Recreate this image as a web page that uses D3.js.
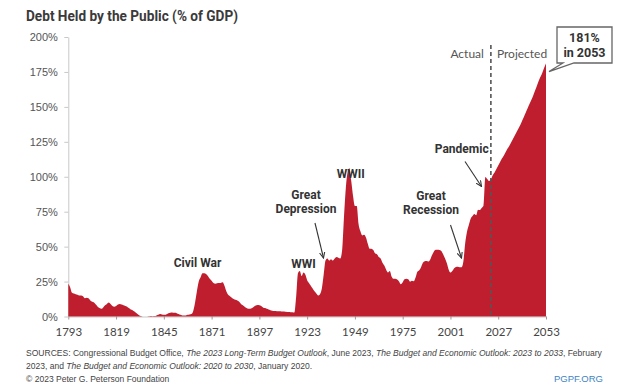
<!DOCTYPE html>
<html><head><meta charset="utf-8">
<script src="https://cdn.jsdelivr.net/npm/d3@7"></script>
<style>
html,body{margin:0;padding:0;background:#fff;}
svg{display:block;}
</style></head>
<body>
<svg id="chart" width="641" height="389"></svg>
<script>
const years = [1793,1794,1795,1796,1797,1798,1799,1800,1801,1802,1803,1804,1805,1806,1807,1808,1809,1810,1811,1812,1813,1814,1815,1816,1817,1818,1819,1820,1821,1822,1823,1824,1825,1826,1827,1828,1829,1830,1831,1832,1833,1834,1835,1836,1837,1838,1839,1840,1841,1842,1843,1844,1845,1846,1847,1848,1849,1850,1851,1852,1853,1854,1855,1856,1857,1858,1859,1860,1861,1862,1863,1864,1865,1866,1867,1868,1869,1870,1871,1872,1873,1874,1875,1876,1877,1878,1879,1880,1881,1882,1883,1884,1885,1886,1887,1888,1889,1890,1891,1892,1893,1894,1895,1896,1897,1898,1899,1900,1901,1902,1903,1904,1905,1906,1907,1908,1909,1910,1911,1912,1913,1914,1915,1916,1917,1918,1919,1920,1921,1922,1923,1924,1925,1926,1927,1928,1929,1930,1931,1932,1933,1934,1935,1936,1937,1938,1939,1940,1941,1942,1943,1944,1945,1946,1947,1948,1949,1950,1951,1952,1953,1954,1955,1956,1957,1958,1959,1960,1961,1962,1963,1964,1965,1966,1967,1968,1969,1970,1971,1972,1973,1974,1975,1976,1977,1978,1979,1980,1981,1982,1983,1984,1985,1986,1987,1988,1989,1990,1991,1992,1993,1994,1995,1996,1997,1998,1999,2000,2001,2002,2003,2004,2005,2006,2007,2008,2009,2010,2011,2012,2013,2014,2015,2016,2017,2018,2019,2020,2021,2022,2023];
const actualDebt = [23.5,21,17,16.5,16,15.5,15,15,14.5,13,13.5,13,11.5,10.5,10,8.5,7,6,5.5,6.5,8,9,10,9,7.5,7,7.5,8.5,9,8.5,8,7.5,7,6,5,4.5,3.5,2.5,1.5,0.5,0.2,0,0,0,0.1,0.3,0.2,0.3,0.8,1.2,1.8,1.5,1.2,1.3,2,2.5,2.8,2.7,2.6,2.4,1.8,1.2,0.8,0.7,0.8,1.2,1.5,1.8,4,10,18,25,28,31,31,30.5,29,27,25.5,24,23.5,23.8,24,24,24.5,22,18,15.5,14.5,13.5,12.5,12,11.5,10.5,9,8,7,6,5.5,5.5,6,7,7.8,8.2,8,7.5,6.5,6,5.5,5,4.5,4.2,4,4,3.8,3.8,3.6,3.5,3.4,3.3,3.2,3.1,3,2.8,14,31,32.5,29,31.5,30,26,24,22,20,18,16.5,15,16,20,30,40,41.5,40,41,40,41.5,42.5,42,41.5,47,70,91,103,106,97,86,79,79,66,61,58,58.5,56.5,52,48.5,48.5,47.5,45,44.5,42.5,41.5,38.5,36.5,33.5,31.5,32.5,28.5,27,27.1,26.4,25.1,23.1,24.5,26.7,27.1,26.6,24.9,25.5,25.2,27.9,32.1,33.1,35.3,38.4,39.5,39.8,39.3,40.8,44,46.6,47.8,47.7,47.5,46.8,44.5,41.6,38.2,33.6,31.4,32.5,34.5,35.5,35.6,35.3,35.2,39.2,52.2,60.6,65.5,70,71.9,73.4,72.5,76.4,76.2,77.6,79.4,99.8,98.4,97,98];
const projYears = [2023,2024,2025,2026,2027,2028,2029,2030,2031,2032,2033,2034,2035,2036,2037,2038,2039,2040,2041,2042,2043,2044,2045,2046,2047,2048,2049,2050,2051,2052,2053];
const projDebt = [98,101,103,105.5,108,110.5,113,115,117.5,120,122,124.5,127,129.5,132,134.5,137,140,143,146,149,152,155,158,161.5,165,168.5,171.5,174.5,178,181];
const xTicks = [1793,1819,1845,1871,1897,1923,1949,1975,2001,2027,2053];
const yTicks = [0,25,50,75,100,125,150,175,200];
const splitYear = 2023;
const events = [
  {lines:["Civil War"], year:1866},
  {lines:["WWI"], year:1918},
  {lines:["Great","Depression"], year:1933},
  {lines:["WWII"], year:1946},
  {lines:["Great","Recession"], year:2008},
  {lines:["Pandemic"], year:2020}
];
const sourceLines = [
  [["SOURCES: Congressional Budget Office, ",false],["The 2023 Long-Term Budget Outlook",true],[", June 2023, ",false],["The Budget and Economic Outlook: 2023 to 2033",true],[", February",false]],
  [["2023, and ",false],["The Budget and Economic Outlook: 2020 to 2030",true],[", January 2020.",false]]
];

const svg = d3.select("#chart");
const x = d3.scaleLinear().domain([1793,2053]).range([68.3,546]);
const y = d3.scaleLinear().domain([0,200]).range([316.5,37]);

const tickFont = "Lato, 'Noto Sans', sans-serif";
const boldFont = "Roboto, 'Liberation Sans', sans-serif";
const srcFont = "'Liberation Sans Narrow','Liberation Sans',sans-serif";

// title
svg.append("text").attr("x",26).attr("y",21)
  .attr("font-family","Roboto, 'Liberation Sans', sans-serif").attr("font-weight","bold")
  .attr("font-size",14.5).attr("fill","#3a3a3a")
  .attr("textLength",212).attr("lengthAdjust","spacingAndGlyphs")
  .text("Debt Held by the Public (% of GDP)");

const series = years.map((yr,i)=>({year:yr,v:actualDebt[i]}))
  .concat(projYears.slice(1).map((yr,i)=>({year:yr,v:projDebt[i+1]})));

// x axis
const xAxis = svg.append("g").attr("transform",`translate(0,${y(0)})`)
  .call(d3.axisBottom(x).tickValues(xTicks).tickFormat(d3.format("d")).tickSize(3).tickPadding(8).tickSizeOuter(0));
xAxis.select(".domain").attr("stroke","#c8c8c8");
xAxis.selectAll(".tick line").attr("stroke","#999");
xAxis.selectAll("text").attr("font-family",tickFont).attr("font-size",11.5).attr("fill","#444");

// y axis
const yAxis = svg.append("g").attr("transform",`translate(${x(1793)},0)`)
  .call(d3.axisLeft(y).tickValues(yTicks).tickFormat(d=>d+"%").tickSize(4).tickPadding(6.5).tickSizeOuter(0));
yAxis.select(".domain").attr("stroke","#c8c8c8");
yAxis.selectAll(".tick line").attr("stroke","#c8c8c8");
yAxis.selectAll("text").attr("font-family","'Liberation Sans', Arial, sans-serif").attr("font-size",11).attr("fill","#555");

// area
const area = d3.area().x(d=>x(d.year)).y0(y(0)).y1(d=>y(d.v)).curve(d3.curveMonotoneX);
svg.append("path").datum(series).attr("d",area).attr("fill","#BE1E2D");

// split line
svg.append("line").attr("x1",x(splitYear)).attr("x2",x(splitYear)).attr("y1",45).attr("y2",y(0))
  .attr("stroke","#555").attr("stroke-width",1.6).attr("stroke-dasharray","4,3");
svg.append("text").attr("x",x(splitYear)-7).attr("y",58).attr("text-anchor","end")
  .attr("font-family",tickFont).attr("font-size",12).attr("fill","#555").text("Actual");
svg.append("text").attr("x",x(splitYear)+6).attr("y",58).attr("text-anchor","start")
  .attr("font-family",tickFont).attr("font-size",12).attr("fill","#555").text("Projected");

// callout
const endX = x(2053), endY = y(projDebt[projDebt.length-1]);
const bx=557, by=27, bw=55, bh=36;
svg.append("path")
  .attr("d",`M${bx},${by} H${bx+bw} V${by+bh} H${bx+17} L${endX+3},${endY+8} L${bx+6},${by+bh} H${bx} Z`)
  .attr("fill","#fff").attr("stroke","#666").attr("stroke-width",1.3);
svg.append("text").attr("x",bx+bw/2).attr("y",by+15).attr("text-anchor","middle")
  .attr("font-family",boldFont).attr("font-weight","bold").attr("font-size",12.5).attr("fill","#333").text("181%");
svg.append("text").attr("x",bx+bw/2).attr("y",by+30).attr("text-anchor","middle")
  .attr("font-family",boldFont).attr("font-weight","bold").attr("font-size",12.5).attr("fill","#333").text("in 2053");

// annotations
const defs = svg.append("defs");
defs.append("marker").attr("id","ah").attr("viewBox","0 0 8 8").attr("refX",7).attr("refY",4)
  .attr("markerWidth",6).attr("markerHeight",6).attr("orient","auto")
  .append("path").attr("d","M0,0.8 L7,4 L0,7.2").attr("fill","none").attr("stroke","#333").attr("stroke-width",1.3);

const labelPos = {
  "Civil War":{cx:197.5,by:267},
  "WWI":{cx:303.5,by:267.5},
  "Great Depression":{cx:306,by:198.5,arrow:[315,223,323.5,258]},
  "WWII":{cx:350.7,by:178.3},
  "Great Recession":{cx:431,by:200,arrow:[450.5,225,461.5,258]},
  "Pandemic":{cx:461.7,by:153.3,arrow:[465,161.5,481.5,186.5]}
};
events.forEach(ev=>{
  const key = ev.lines.join(" ");
  const p = labelPos[key];
  ev.lines.forEach((ln,i)=>{
    svg.append("text").attr("x",p.cx).attr("y",p.by+i*14.3).attr("text-anchor","middle")
      .attr("font-family",boldFont).attr("font-weight","bold").attr("font-size",12).attr("fill","#333").text(ln);
  });
  if(p.arrow){
    svg.append("line").attr("x1",p.arrow[0]).attr("y1",p.arrow[1]).attr("x2",p.arrow[2]).attr("y2",p.arrow[3])
      .attr("stroke","#333").attr("stroke-width",1.1).attr("marker-end","url(#ah)");
  }
});

// sources
const srcTexts = sourceLines.map((parts,i)=>{
  const t = svg.append("text").attr("x",26).attr("y",356+i*13)
    .attr("font-family",srcFont).attr("font-size",9).attr("fill","#444");
  parts.forEach(([s,it])=>t.append("tspan").attr("font-style",it?"italic":"normal").text(s));
  return t;
});
const natural = srcTexts[0].node().getComputedTextLength();
const srcSize = 9*577/natural;
srcTexts.forEach(t=>t.attr("font-size",srcSize));
svg.append("text").attr("x",26).attr("y",382)
  .attr("font-family",srcFont).attr("font-size",srcSize).attr("fill","#444")
  .text("© 2023 Peter G. Peterson Foundation");
svg.append("text").attr("x",603).attr("y",382).attr("text-anchor","end")
  .attr("font-family",srcFont).attr("font-size",9.5).attr("fill","#3d84c4")
  .text("PGPF.ORG");
</script>
</body></html>
